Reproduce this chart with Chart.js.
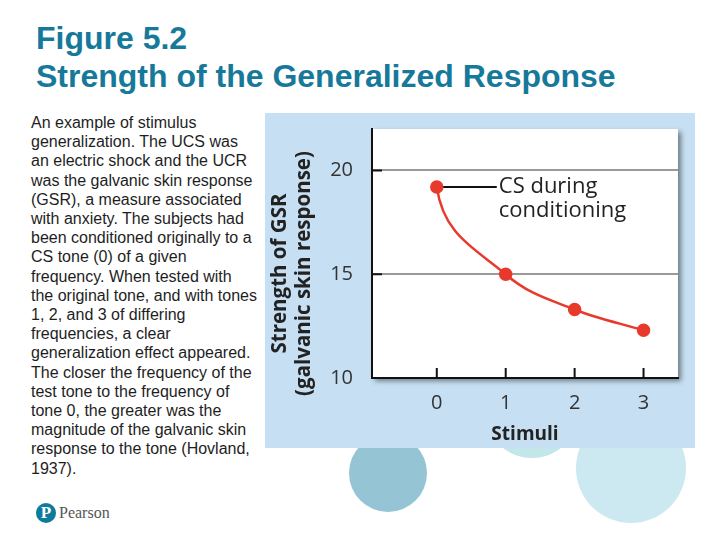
<!DOCTYPE html>
<html>
<head>
<meta charset="utf-8">
<script src="https://cdn.jsdelivr.net/npm/chart.js@4.4.0/dist/chart.umd.min.js"></script>
<style>
  html, body { margin:0; padding:0; background:#fff; width:720px; height:540px; overflow:hidden; }
  body { position:relative; font-family:"Liberation Sans", Arial, sans-serif; }
  .title { position:absolute; left:36px; top:19px; font-weight:bold; font-size:32px; line-height:38px; color:#17799a; white-space:nowrap; }
  .para { position:absolute; left:31px; top:113px; font-size:16px; line-height:19.2px; color:#1e1e1e; white-space:nowrap; }
  .circle { position:absolute; border-radius:50%; }
  #panel { position:absolute; left:265px; top:113px; width:430px; height:335px; background:#c6dff2; }
  #panel canvas { position:absolute; left:0; top:0; }
  .logo { position:absolute; left:36px; top:503px; width:20px; height:20px; border-radius:50%; background:#0f7b9c; color:#fff; font-family:"Liberation Serif", serif; font-weight:bold; font-size:17px; line-height:20px; text-align:center; }
  .logotext { position:absolute; left:59px; top:503px; font-family:"Liberation Serif", serif; font-size:16px; line-height:20px; color:#555; }
</style>
</head>
<body>
<div class="title">Figure 5.2<br>Strength of the Generalized Response</div>
<div class="para">An example of stimulus<br>generalization. The UCS was<br>an electric shock and the UCR<br>was the galvanic skin response<br>(GSR), a measure associated<br>with anxiety. The subjects had<br>been conditioned originally to a<br>CS tone (0) of a given<br>frequency. When tested with<br>the original tone, and with tones<br>1, 2, and 3 of differing<br>frequencies, a clear<br>generalization effect appeared.<br>The closer the frequency of the<br>test tone to the frequency of<br>tone 0, the greater was the<br>magnitude of the galvanic skin<br>response to the tone (Hovland,<br>1937).</div>
<div class="circle" style="left:349px;top:434px;width:78px;height:78px;background:#95c4d5;"></div>
<div class="circle" style="left:485px;top:364px;width:94px;height:94px;background:#c2e6e9;"></div>
<div class="circle" style="left:576px;top:413px;width:110px;height:110px;background:#cce8f1;"></div>
<div id="panel"><canvas id="c" width="430" height="335"></canvas></div>
<div class="logo">P</div>
<div class="logotext">Pearson</div>
<script>
// ---- data ----
const stimuli = [0, 1, 2, 3];
const stimulusLabels = ['0', '1', '2', '3'];
const gsrStrength = [19.2, 15.0, 13.3, 12.3];
const yTickValues = [10, 15, 20];
const xTitle = 'Stimuli';
const yTitle = ['Strength of GSR', '(galvanic skin response)'];
const annotationText = ['CS during', 'conditioning'];

const plotBg = {
  id: 'plotBg',
  beforeDraw(chart) {
    const {ctx, chartArea: a} = chart;
    ctx.save();
    ctx.shadowColor = 'rgba(0,0,0,0.45)';
    ctx.shadowBlur = 5;
    ctx.shadowOffsetX = 3;
    ctx.shadowOffsetY = 3;
    ctx.fillStyle = '#ffffff';
    ctx.fillRect(a.left, a.top, a.right - a.left, a.bottom - a.top);
    ctx.restore();
  },
  beforeDatasetsDraw(chart) {
    const {ctx} = chart;
    const meta = chart.getDatasetMeta(0);
    // steeper start of the smooth curve (tangent style only)
    meta.dataset.updateControlPoints(chart.chartArea, 'x');
    const p0 = meta.data[0], p1 = meta.data[1];
    p0.cp2x = p0.x + (p1.x - p0.x) * 0.1;
    p0.cp2y = p0.y + (p1.y - p0.y) * 0.55;
    p1.cp1x = p1.x - (p1.x - p0.x) * 0.45;
    p1.cp1y = p1.y - (p1.y - p0.y) * 0.3;
    const p = p0;
    ctx.save();
    ctx.strokeStyle = '#111';
    ctx.lineWidth = 2;
    ctx.beginPath();
    ctx.moveTo(p.x, p.y);
    ctx.lineTo(p.x + 60, p.y);
    ctx.stroke();
    ctx.restore();
  },
  afterDraw(chart) {
    const {ctx, chartArea: a, scales} = chart;
    ctx.save();
    // inside tick marks
    ctx.strokeStyle = '#111';
    ctx.lineWidth = 2;
    scales.y.ticks.forEach(t => {
      if (t.value === scales.y.min) return;
      const y = scales.y.getPixelForValue(t.value);
      ctx.beginPath(); ctx.moveTo(a.left, y); ctx.lineTo(a.left + 10, y); ctx.stroke();
    });
    scales.x.ticks.forEach(t => {
      const x = scales.x.getPixelForValue(t.value);
      ctx.beginPath(); ctx.moveTo(x, a.bottom); ctx.lineTo(x, a.bottom - 10); ctx.stroke();
    });
    // annotation text
    const p = chart.getDatasetMeta(0).data[0];
    ctx.fillStyle = '#222';
    ctx.font = '22px "Open Sans"';
    ctx.textAlign = 'left';
    ctx.textBaseline = 'middle';
    annotationText.forEach((s, i) => ctx.fillText(s, p.x + 62, p.y + i * 24));
    // y axis title (two lines, rotated)
    const lines = scales.y.options.title.text;
    ctx.font = 'bold 20.5px "Open Sans"';
    ctx.textAlign = 'center';
    ctx.fillStyle = '#222';
    ctx.translate(15, (a.top + a.bottom) / 2 + 20);
    ctx.rotate(-Math.PI / 2);
    lines.forEach((s, i) => ctx.fillText(s, 0, i * 24));
    ctx.restore();
  }
};

function build() {
  Chart.defaults.font.family = '"Open Sans", sans-serif';
  new Chart(document.getElementById('c'), {
    type: 'line',
    data: {
      datasets: [{
        data: stimuli.map((x, i) => ({x, y: gsrStrength[i]})),
        borderColor: '#e8392d',
        backgroundColor: '#e8392d',
        borderWidth: 2.5,
        pointRadius: 5.5,
        pointHoverRadius: 5.5,
        cubicInterpolationMode: 'monotone',
        fill: false
      }]
    },
    options: {
      responsive: false,
      animation: false,
      devicePixelRatio: 1,
      layout: { padding: { left: 0, right: 17, top: 16, bottom: 0 } },
      plugins: { legend: { display: false }, tooltip: { enabled: false } },
      scales: {
        x: {
          type: 'linear',
          min: -0.94,
          max: 3.5,
          afterBuildTicks: s => { s.ticks = stimuli.map(v => ({value: v})); },
          afterFit: s => { s.height = 70; s.paddingLeft = 0; s.paddingRight = 0; },
          ticks: {
            includeBounds: false,
            padding: 13,
            color: '#333',
            font: { size: 20 },
            callback: (v) => stimulusLabels[stimuli.indexOf(v)] ?? ''
          },
          grid: { display: false, drawTicks: false },
          border: { display: true, color: '#111', width: 2 },
          title: { display: true, text: xTitle, color: '#222', font: { size: 19, weight: 'bold' }, padding: { top: 4, bottom: 2 } }
        },
        y: {
          type: 'linear',
          min: 10,
          max: 22,
          afterBuildTicks: s => { s.ticks = yTickValues.map(v => ({value: v})); },
          afterFit: s => { s.width = 107; s.paddingTop = 0; s.paddingBottom = 0; },
          ticks: { includeBounds: false, padding: 19, color: '#333', font: { size: 20 } },
          grid: {
            drawTicks: false,
            color: c => (c.tick && c.tick.value === 10) ? 'rgba(0,0,0,0)' : '#9a9a9a',
            lineWidth: 2
          },
          border: { display: true, color: '#111', width: 2 },
          title: { display: false, text: yTitle }
        }
      }
    },
    plugins: [plotBg]
  });
}

Promise.all([
  document.fonts.load('20px "Open Sans"'),
  document.fonts.load('bold 20px "Open Sans"')
]).catch(() => {}).then(build);
</script>
</body>
</html>
